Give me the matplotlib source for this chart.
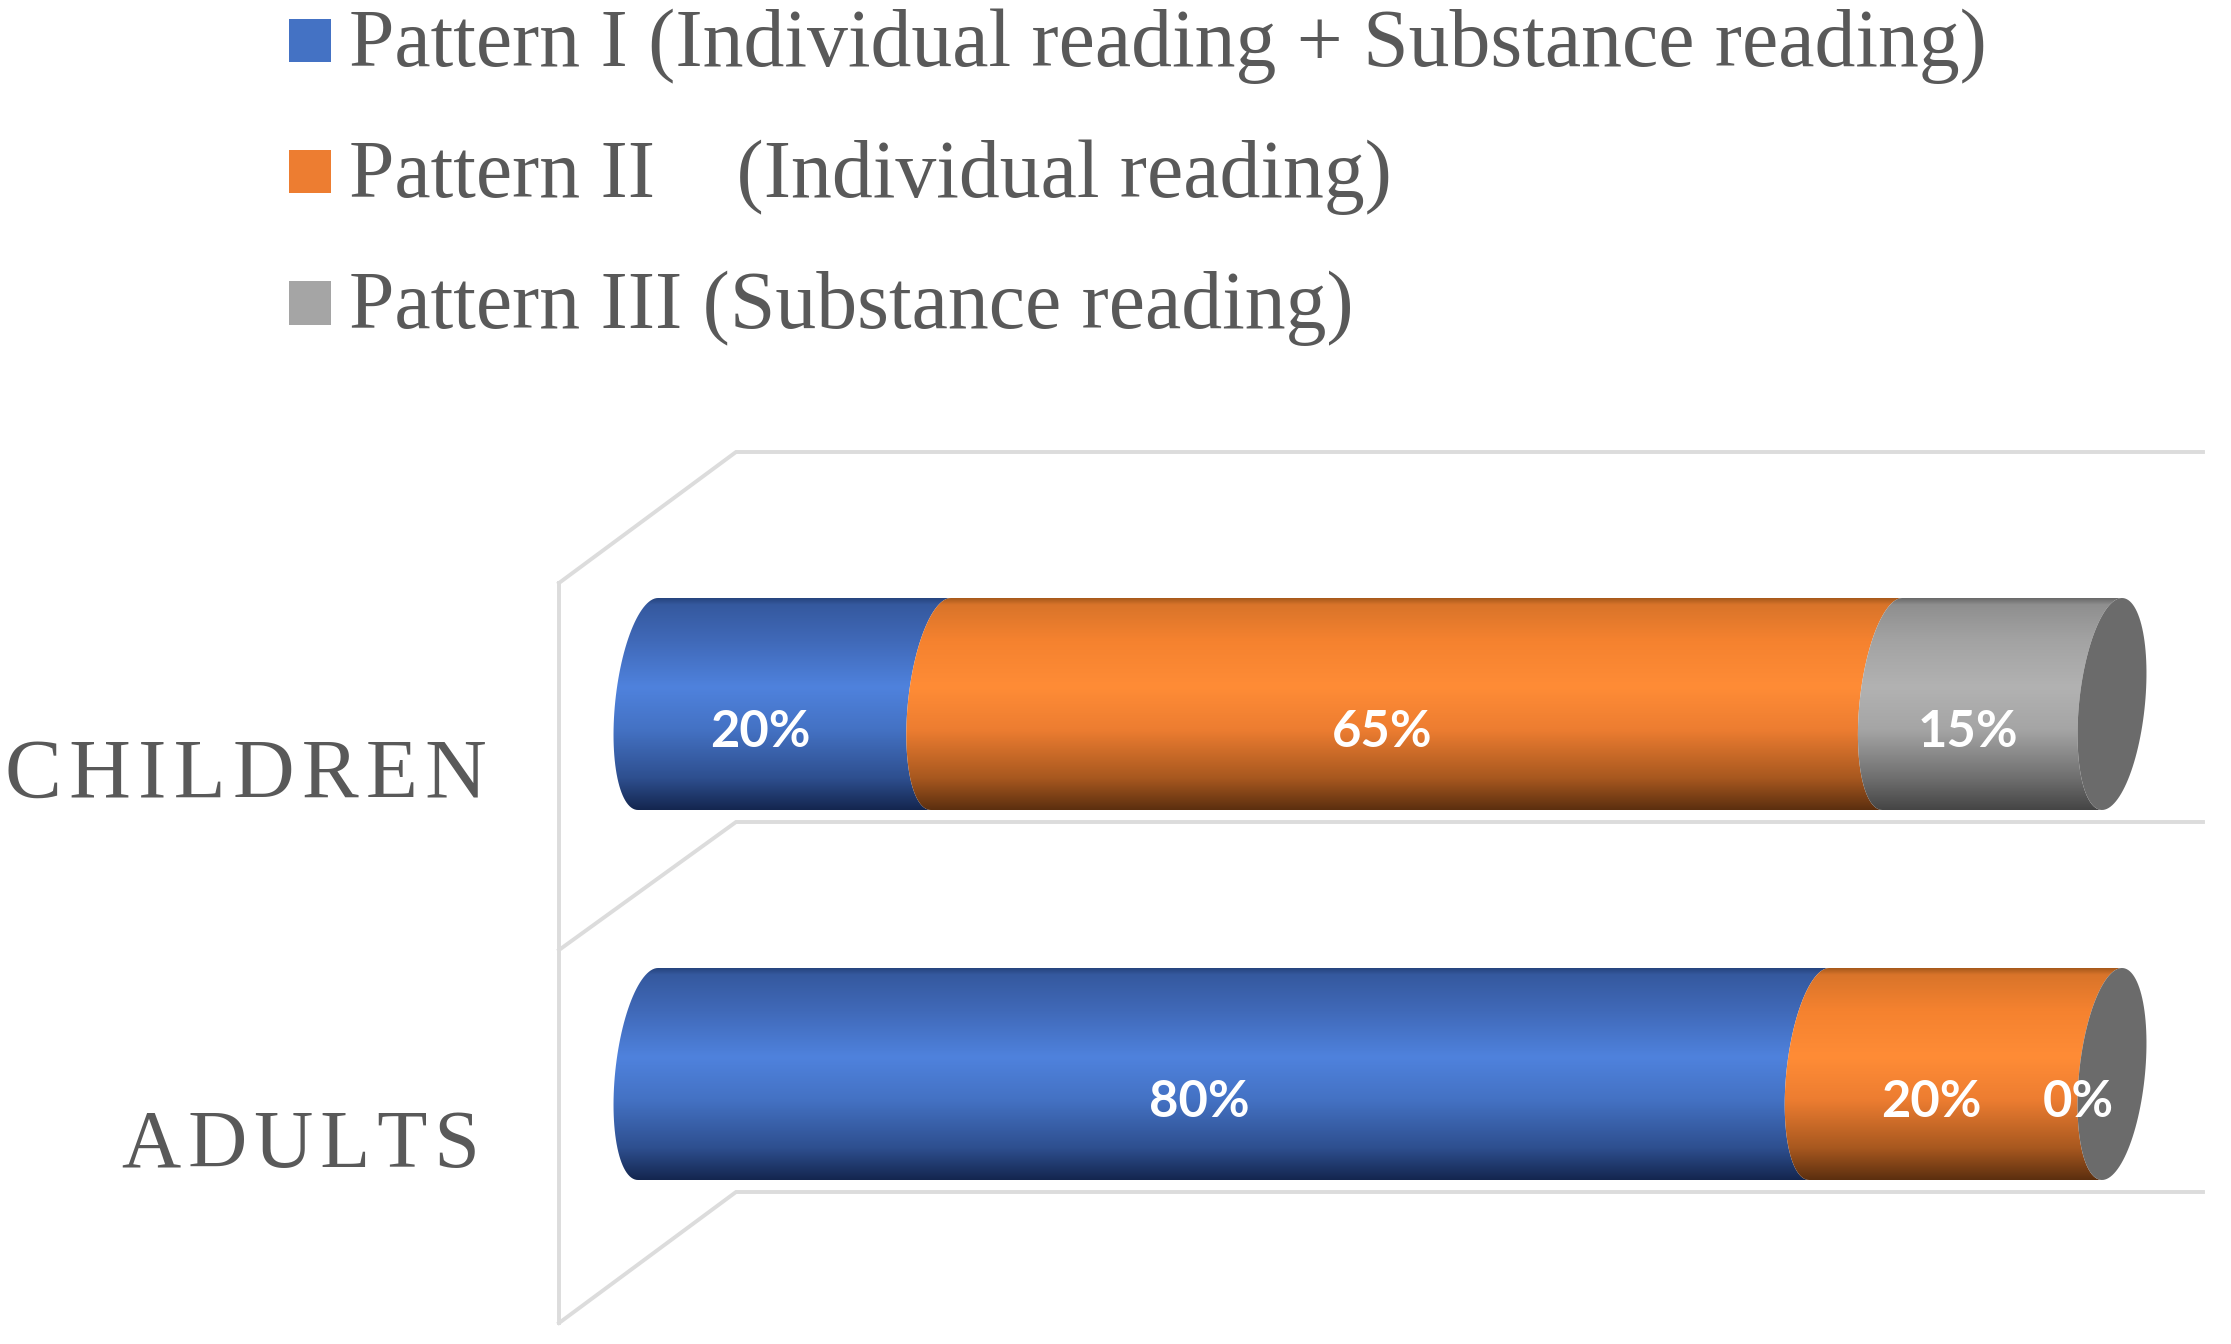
import matplotlib
matplotlib.use("Agg")
import matplotlib.pyplot as plt
import numpy as np
from matplotlib.colors import LinearSegmentedColormap
from matplotlib.patches import Patch, Polygon

W, H = 2231, 1344

categories = ["ADULTS", "CHILDREN"]
cat_labels = ["A\u200aD\u200aU\u200aL\u200aT\u200aS\u200a", "C\u200aH\u200aI\u200aL\u200aD\u200aR\u200aE\u200aN"]
cat_sizes = [59, 61.5]
pattern_1 = [80, 20]
pattern_2 = [20, 65]
pattern_3 = [0, 15]
legend_labels = ["Pattern I (Individual reading + Substance reading)",
                 "Pattern II    (Individual reading)",
                 "Pattern III (Substance reading)"]
legend_colors = ["#4472c4", "#ed7d31", "#a5a5a5"]

# vertical shading of each cylinder, top to bottom
stops = [0, .03, .2, .42, .62, .85, 1]
shades = [
    ["#27457f", "#35599f", "#4069b8", "#4f82dd", "#4472c4", "#2e4f8f", "#14264f"],
    ["#a85a1c", "#d9742a", "#f5822f", "#ff8c36", "#ed7d31", "#a8581f", "#5c2f0f"],
    ["#6a6a6a", "#8f8f8f", "#a3a3a3", "#b2b2b2", "#a5a5a5", "#6f6f6f", "#454545"],
]
cap_color = "#6b6b6b"
wall_color = "#dcdcdc"

# pixel layout of the plot
x0_px, x100_px = 648, 2112
ax_left_px = 495
y_adults_px, y_children_px = 1074, 704
px_x = (x100_px - x0_px) / 100
px_y = y_adults_px - y_children_px
bar_h = 212 / px_y
semi_a = 33 / px_x
shear = 10 / px_x


def to_x(px):
    return (px - x0_px) / px_x


def to_y(py):
    return (y_adults_px - py) / px_y


def edge(x, y, t):
    # points on the tilted ellipse that closes the cylinder
    return np.column_stack([x + semi_a * np.cos(t) + shear * np.sin(t), y + bar_h / 2 * np.sin(t)])


def segment(ax, y, start, end, colors):
    t = np.linspace(np.pi / 2, 3 * np.pi / 2, 60)
    pts = np.vstack([edge(start, y, t), edge(end, y, t[::-1])])
    poly = Polygon(pts, closed=True, transform=ax.transData, facecolor="none", edgecolor="none")
    ax.add_patch(poly)
    cmap = LinearSegmentedColormap.from_list("s", list(zip(stops, colors)))
    grad = np.linspace(0, 1, 256).reshape(-1, 1)
    im = ax.imshow(grad, cmap=cmap, aspect="auto", vmin=0, vmax=1, interpolation="bilinear",
                   extent=(start - 5, end + 5, y - bar_h / 2, y + bar_h / 2), zorder=3)
    im.set_clip_path(poly)


fig = plt.figure(figsize=(W / 100, H / 100), dpi=100, facecolor="white")
ax = fig.add_axes([ax_left_px / W, 0, 1 - ax_left_px / W, 1])

# chart walls
for py_back, py_front in [(452, 583), (822, 950), (1192, 1323)]:
    ax.plot([to_x(559), to_x(736), to_x(2203)], [to_y(py_front), to_y(py_back), to_y(py_back)],
            color=wall_color, lw=2.8, zorder=1, solid_joinstyle="miter")
ax.plot([to_x(559), to_x(559)], [to_y(583), to_y(1323)], color=wall_color, lw=2.8, zorder=1)

y_pos = np.arange(len(categories))
for i, y in enumerate(y_pos):
    vals = [pattern_1[i], pattern_2[i], pattern_3[i]]
    left = 0
    for k, v in enumerate(vals):
        if v > 0:
            segment(ax, y, left, left + v, shades[k])
        # data labels sit low and to the left of each segment centre
        ax.annotate(f"{v}%", (left + v / 2, y), xytext=(-24.5, -20.5), textcoords="offset points",
                    ha="center", va="center", color="white", fontsize=36.5, fontweight="bold",
                    family="Lato", zorder=6)
        left += v
    t = np.linspace(0, 2 * np.pi, 120)
    ax.add_patch(Polygon(edge(left, y, t), closed=True, facecolor=cap_color, edgecolor="none", zorder=4))

ax.set_xlim(to_x(ax_left_px), to_x(W))
ax.set_ylim(to_y(H), to_y(0))
ax.set_xticks([])
ax.set_yticks(y_pos - 64 / px_y, cat_labels, family="Liberation Serif", color="#595959")
for lab, size in zip(ax.get_yticklabels(), cat_sizes):
    lab.set_fontsize(size)
ax.tick_params(axis="y", length=0, pad=6)
for s in ax.spines.values():
    s.set_visible(False)
ax.patch.set_alpha(0)

handles = [Patch(facecolor=c, edgecolor="none") for c in legend_colors]
leg = fig.legend(handles, legend_labels, loc="upper left", bbox_to_anchor=(289 / W, 1 - 8 / H), frameon=False,
                 prop={"family": "Liberation Serif", "size": 58.8}, labelcolor="#595959",
                 handlelength=0.51, handleheight=0.51, handletextpad=0.22, labelspacing=0.68,
                 borderaxespad=0, borderpad=0)
# squares sit just above the text baseline
for p in leg.get_patches():
    p.set_y(2.2)
    p.set_height(31)

fig.savefig("out.png", dpi=100)
